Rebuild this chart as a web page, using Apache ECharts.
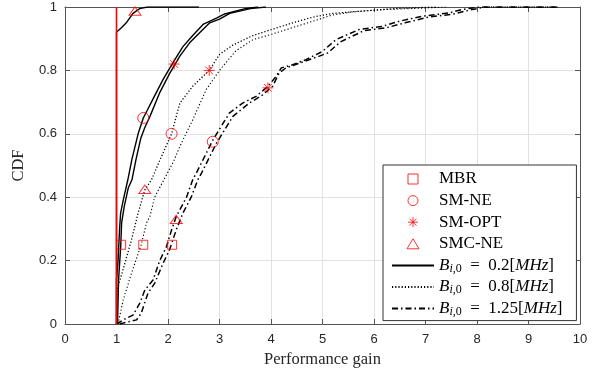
<!DOCTYPE html>
<html>
<head>
<meta charset="utf-8">
<script src="https://cdn.jsdelivr.net/npm/echarts@6/dist/echarts.min.js"></script>
<style>
html,body{margin:0;padding:0;background:#fff}
#main{width:603px;height:369px}
</style>
</head>
<body>
<div id="main"></div>
<script>
/* names shown in the legend */
var algoNames = ['MBR', 'SM-NE', 'SM-OPT', 'SMC-NE'];
var bwValues = ['0.2', '0.8', '1.25'];
var bwNames = ['bw02', 'bw08', 'bw125'];
var yTickLabels = ['0', '0.2', '0.4', '0.6', '0.8', '1'];

/* marker points [gain, cdf] */
var mbrPts = [[1.09, 0.25], [1.52, 0.25], [2.08, 0.25]];
var smnePts = [[1.52, 0.65], [2.07, 0.60], [2.87, 0.575]];
var smoptPts = [[2.12, 0.82], [2.80, 0.80], [3.94, 0.745]];
var smcnePts = [[1.36, 0.987], [1.55, 0.425], [2.16, 0.33]];

/* MBR reference line */
var mbrLine = [[1, 0], [1, 1]];

/* B = 0.2 MHz (solid) */
var solidA = [[1.0, 0], [1.0, 0.14], [1.03, 0.2], [1.06, 0.3], [1.08, 0.35], [1.13, 0.39], [1.22, 0.455],
    [1.30, 0.52], [1.42, 0.60], [1.52, 0.65], [1.60, 0.675], [1.71, 0.71], [1.90, 0.77], [2.10, 0.825],
    [2.29, 0.875], [2.48, 0.91], [2.68, 0.945], [2.94, 0.965], [3.1, 0.978], [3.5, 0.995], [3.75, 1.0]];
var solidB = [[1.02, 0], [1.04, 0.14], [1.08, 0.24], [1.10, 0.32], [1.15, 0.37], [1.23, 0.43], [1.30, 0.455],
    [1.38, 0.52], [1.47, 0.585], [1.55, 0.62], [1.65, 0.655], [1.84, 0.73], [2.03, 0.79], [2.23, 0.845],
    [2.42, 0.887], [2.61, 0.918], [2.81, 0.95], [3.0, 0.962], [3.2, 0.98], [3.6, 0.995], [3.9, 1.0]];
var solidC = [[1.0, 0], [1.0, 0.92], [1.1, 0.935], [1.19, 0.95], [1.32, 0.98], [1.45, 0.995], [1.6, 1.0], [2.6, 1.0]];

/* B = 0.8 MHz (dotted) */
var dotA = [[1.0, 0], [1.01, 0.107], [1.03, 0.118], [1.16, 0.19], [1.29, 0.265], [1.42, 0.35], [1.55, 0.423],
    [1.68, 0.455], [1.85, 0.52], [2.07, 0.60], [2.23, 0.697], [2.48, 0.75], [2.80, 0.80], [3.0, 0.85],
    [3.26, 0.88], [3.65, 0.91], [4.03, 0.93], [4.42, 0.95], [4.81, 0.968], [5.2, 0.98], [6.0, 0.99],
    [6.5, 0.996], [7.2, 1.0]];
var dotB = [[1.03, 0], [1.13, 0.076], [1.29, 0.16], [1.48, 0.25], [1.58, 0.318], [1.65, 0.34], [1.74, 0.40],
    [1.92, 0.455], [2.1, 0.51], [2.23, 0.56], [2.48, 0.644], [2.74, 0.739], [3.0, 0.80], [3.32, 0.862],
    [3.65, 0.897], [4.03, 0.915], [4.42, 0.935], [4.81, 0.955], [5.2, 0.975], [5.6, 0.985], [6.2, 0.992],
    [7.0, 0.997], [7.4, 1.0]];

/* B = 1.25 MHz (dash-dot) */
var dashA = [[1.0, 0], [1.19, 0.018], [1.32, 0.028], [1.45, 0.065], [1.55, 0.107], [1.71, 0.139], [1.84, 0.20],
    [1.97, 0.244], [2.07, 0.297], [2.16, 0.339], [2.36, 0.40], [2.48, 0.455], [2.55, 0.476], [2.87, 0.58],
    [3.19, 0.665], [3.45, 0.697], [3.71, 0.718], [3.94, 0.75], [4.10, 0.781], [4.2, 0.808], [4.42, 0.818],
    [4.68, 0.834], [4.94, 0.855], [5.0, 0.86], [5.26, 0.897], [5.71, 0.929], [6.16, 0.939], [6.49, 0.955],
    [6.94, 0.971], [7.45, 0.981], [7.71, 0.992], [8.03, 1.0], [9.58, 1.0]];
var dashB = [[1.06, 0], [1.39, 0.013], [1.48, 0.034], [1.61, 0.097], [1.74, 0.128], [1.90, 0.19], [2.03, 0.234],
    [2.16, 0.297], [2.29, 0.35], [2.45, 0.40], [2.58, 0.455], [2.65, 0.476], [2.94, 0.57], [3.26, 0.655],
    [3.58, 0.697], [3.84, 0.723], [4.03, 0.75], [4.16, 0.792], [4.29, 0.808], [4.55, 0.823], [4.94, 0.845],
    [5.1, 0.855], [5.35, 0.89], [5.8, 0.925], [6.25, 0.935], [6.6, 0.95], [7.05, 0.968], [7.55, 0.978],
    [7.85, 0.99], [8.15, 1.0], [9.6, 1.0]];

var serifFont = 'Liberation Serif';
var axisColor = '#555';
var textColor = '#262626';
var red = '#ff0000';

var starPath = 'path://M10,0L10,20M0,10L20,10M3,3L17,17M3,17L17,3';
var rectPath = 'path://M0,0L10,0L10,10L0,10Z';
var circlePath = 'path://M10,5A5,5,0,1,1,0,5A5,5,0,1,1,10,5Z';
var triPath = 'path://M6,0L12,10L0,10Z';

function curve(name, data, dash, width){
	return {
		name: name,
		type: 'line',
		data: data,
		symbol: 'none',
		itemStyle: { color: 'rgba(0,0,0,0)' },
		lineStyle: { color: '#000', width: width, type: dash },
		z: 2,
		animation: false
	};
}

function markers(name, data, symbol, size){
	return {
		name: name,
		type: 'scatter',
		data: data,
		symbol: symbol,
		symbolSize: size,
		symbolKeepAspect: true,
		itemStyle: { color: 'rgba(0,0,0,0)', borderColor: red, borderWidth: 1 },
		z: 5,
		animation: false
	};
}

var mychart = echarts.init(document.getElementById('main'));
var option = {
	animation: false,
	grid: { left: 65, right: 23, top: 7, bottom: 45, outerBoundsMode: 'none' },
	xAxis: [{
		type: 'value', min: 0, max: 10, interval: 1,
		name: 'Performance gain', nameLocation: 'middle', nameGap: 25,
		nameTextStyle: { fontFamily: serifFont, fontSize: 16.5, color: textColor },
		axisLine: { onZero: false, lineStyle: { color: axisColor, width: 1 } },
		axisTick: { inside: true, length: 5, lineStyle: { color: axisColor } },
		axisLabel: { fontFamily: 'Liberation Sans', fontSize: 13, color: textColor, margin: 9 },
		splitLine: { show: true, lineStyle: { color: '#e2e2e2' } }
	}, {
		type: 'value', min: 0, max: 10, interval: 1, position: 'top',
		axisLine: { onZero: false, lineStyle: { color: axisColor, width: 1 } },
		axisTick: { inside: true, length: 5, lineStyle: { color: axisColor } },
		axisLabel: { show: false },
		splitLine: { show: false }
	}],
	yAxis: [{
		type: 'value', min: 0, max: 1, interval: 0.2,
		name: 'CDF', nameLocation: 'middle', nameGap: 38,
		nameTextStyle: { fontFamily: serifFont, fontSize: 16.5, color: textColor },
		axisLine: { show: true, onZero: false, lineStyle: { color: axisColor, width: 1 } },
		axisTick: { show: true, inside: true, length: 5, lineStyle: { color: axisColor } },
		axisLabel: {
			fontFamily: 'Liberation Sans', fontSize: 13, color: textColor, margin: 8,
			formatter: function(v){ return yTickLabels[Math.round(v / 0.2)]; }
		},
		splitLine: { show: true, lineStyle: { color: '#e2e2e2' } }
	}, {
		type: 'value', min: 0, max: 1, interval: 0.2, position: 'right',
		axisLine: { show: true, onZero: false, lineStyle: { color: axisColor, width: 1 } },
		axisTick: { show: true, inside: true, length: 5, lineStyle: { color: axisColor } },
		axisLabel: { show: false },
		splitLine: { show: false }
	}],
	legend: {
		orient: 'vertical',
		left: 383, top: 165,
		backgroundColor: '#fff',
		borderColor: '#333', borderWidth: 1, borderRadius: 0,
		padding: [5, 14, 3, 8],
		itemWidth: 42, itemHeight: 10, itemGap: 3.6,
		selectedMode: false,
		textStyle: {
			fontFamily: serifFont, fontSize: 17, color: '#000', lineHeight: 18,
			rich: {
				n: { fontFamily: serifFont, fontSize: 17, color: '#000', lineHeight: 18 },
				it: { fontFamily: serifFont, fontStyle: 'italic', fontSize: 17, color: '#000', lineHeight: 18 },
				subi: { fontFamily: serifFont, fontStyle: 'italic', fontSize: 12, color: '#000', lineHeight: 10, verticalAlign: 'bottom' },
				sub: { fontFamily: serifFont, fontSize: 12, color: '#000', lineHeight: 10, verticalAlign: 'bottom' }
			}
		},
		formatter: function(name){
			var i = bwNames.indexOf(name);
			if (i < 0) return '{n|' + name + '}';
			return '{it|B}{subi|i}{sub|,0}{n|\u2002=\u2002' + bwValues[i] + '[}{it|MHz}{n|]}';
		},
		data: [
			{ name: algoNames[0], icon: rectPath, itemStyle: { borderWidth: 1 } },
			{ name: algoNames[1], icon: circlePath, itemStyle: { borderWidth: 1 } },
			{ name: algoNames[2], icon: starPath, itemStyle: { borderWidth: 1 } },
			{ name: algoNames[3], icon: triPath, itemStyle: { borderWidth: 1 } },
			{ name: bwNames[0] },
			{ name: bwNames[1] },
			{ name: bwNames[2] }
		]
	},
	series: [
		curve(bwNames[0], solidA, 'solid', 1.4),
		curve(bwNames[0], solidB, 'solid', 1.4),
		curve(bwNames[0], solidC, 'solid', 1.4),
		curve(bwNames[1], dotA, [1.2, 2], 1.3),
		curve(bwNames[1], dotB, [1.2, 2.2], 1.1),
		curve(bwNames[2], dashA, [6, 3, 1.5, 3], 1.5),
		curve(bwNames[2], dashB, [6, 3, 1.5, 3], 1.5),
		{
			name: 'mbrRef', type: 'line', data: mbrLine, symbol: 'none',
			lineStyle: { color: red, width: 1.6 }, z: 4, animation: false
		},
		markers(algoNames[0], mbrPts, rectPath, 9),
		markers(algoNames[1], smnePts, 'circle', 11),
		markers(algoNames[2], smoptPts, starPath, 11),
		markers(algoNames[3], smcnePts, triPath, [12, 10])
	]
};
mychart.setOption(option);
</script>
</body>
</html>
